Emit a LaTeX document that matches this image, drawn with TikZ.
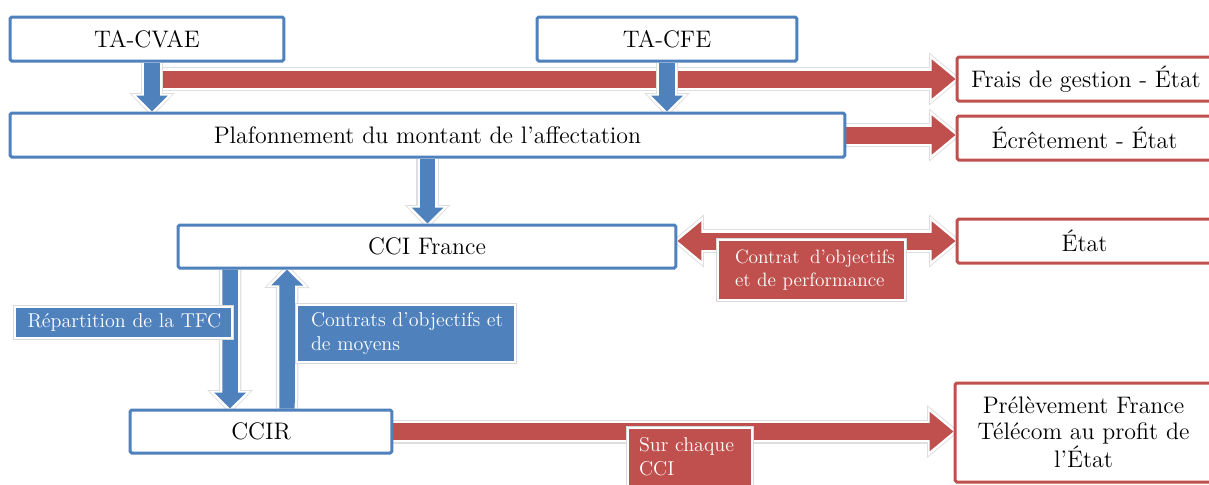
\documentclass[tikz,border=0pt]{standalone}
\usepackage{fontspec}
\usetikzlibrary{arrows.meta,positioning,backgrounds}
\definecolor{cblue}{HTML}{4F81BD}
\definecolor{cred}{HTML}{C0504D}

\begin{document}
\begin{tikzpicture}[x=0.02cm, y=-0.02cm,
    bluebox/.style={draw=cblue, line width=0.06cm, rounded corners=1pt, fill=white, minimum height=0.88cm, inner sep=0pt, align=center, font=\fontsize{13.6}{14.8}\selectfont},
    redbox/.style={bluebox, draw=cred},
    bluelbl/.style={fill=cblue, draw=white, line width=0.05cm, text=white, align=left, inner xsep=0.2cm, font=\fontsize{11.4}{13.5}\selectfont, preaction={draw=black!15, line width=0.08cm}},
    redlbl/.style={bluelbl, fill=cred},
    fatblue/.style={draw=cblue, line width=0.31cm, -{Triangle[length=0.32cm,width=0.62cm]},
        preaction={draw=black!13, line width=0.45cm, shorten >=-0.11cm, -{Triangle[length=0.48cm,width=0.88cm]}},
        preaction={draw=white, line width=0.40cm, shorten >=-0.08cm, -{Triangle[length=0.43cm,width=0.80cm]}}},
    fatred/.style={draw=cred, line width=0.34cm, -{Triangle[length=0.48cm,width=0.76cm]},
        preaction={draw=black!13, line width=0.48cm, shorten >=-0.11cm, shorten <=-0.07cm, -{Triangle[length=0.64cm,width=1.02cm]}},
        preaction={draw=white, line width=0.43cm, shorten >=-0.08cm, shorten <=-0.05cm, -{Triangle[length=0.59cm,width=0.94cm]}}},
    fatredboth/.style={draw=cred, line width=0.34cm, {Triangle[length=0.48cm,width=0.76cm]}-{Triangle[length=0.48cm,width=0.76cm]},
        preaction={draw=black!13, line width=0.48cm, shorten >=-0.11cm, shorten <=-0.11cm, {Triangle[length=0.64cm,width=1.02cm]}-{Triangle[length=0.64cm,width=1.02cm]}},
        preaction={draw=white, line width=0.43cm, shorten >=-0.08cm, shorten <=-0.08cm, {Triangle[length=0.59cm,width=0.94cm]}-{Triangle[length=0.59cm,width=0.94cm]}}}
]
\useasboundingbox (0,0) rectangle (1209,484);

% boxes
\node[bluebox, minimum width=5.48cm] (cvae) at (147,39) {TA-CVAE};
\node[bluebox, minimum width=5.2cm] (cfe) at (667,39) {TA-CFE};
\node[bluebox, minimum width=16.7cm] (plaf) at (427.5,135) {Plafonnement du montant de l’affectation};
\node[bluebox, minimum width=9.96cm, minimum height=0.86cm] (cci) at (427,246.5) {CCI France};
\node[bluebox, minimum width=5.24cm, minimum height=0.86cm] (ccir) at (261,431.5) {CCIR};
\node[redbox, minimum width=5.1cm] (frais) at (1084.5,79) {\hspace*{0.06cm}Frais de gestion - État};
\node[redbox, minimum width=5.1cm] (ecret) at (1084.5,138) {Écrêtement - État};
\node[redbox, minimum width=5.1cm] (etat) at (1084.5,241) {État};
\node[redbox, minimum width=5.14cm, minimum height=1.98cm] (prel) at (1083.5,432.5) {Prélèvement France\\Télécom au profit de\\l’État};

% arrows
\begin{scope}[on background layer]
\coordinate (topstart) at (163,79);
\draw[fatred] (topstart) -- (topstart -| frais.west);
\draw[fatred] (plaf.east) -- (plaf.east -| ecret.west);
\draw[fatredboth] (cci.east |- etat.west) -- (etat.west);
\draw[fatred] (ccir.east) -- (ccir.east -| prel.west);
\draw[fatblue] ([xshift=0.1cm]cvae.south) -- ([xshift=0.1cm]cvae.south |- plaf.north);
\draw[fatblue] (cfe.south) -- (cfe.south |- plaf.north);
\draw[fatblue] (plaf.south) -- (plaf.south |- cci.north);
\draw[fatblue] ([xshift=-3.94cm]cci.south) -- ([xshift=-0.62cm]ccir.north);
\draw[fatblue] ([xshift=0.52cm]ccir.north) -- ([xshift=-2.8cm]cci.south);
\end{scope}

% labels
\node[bluelbl, minimum width=4.34cm, minimum height=0.62cm, text width=3.94cm, inner xsep=0.2cm] (replbl) at (123.5,322.5) {\hspace*{0.05cm}Répartition de la TFC};
\node[bluelbl, minimum width=4.36cm, minimum height=1.14cm, text width=3.8cm, inner xsep=0.28cm] (contlbl) at (406,333.5) {\makebox[3.8cm][s]{Contrats d’objectifs et}\\de moyens};
\node[redlbl, minimum width=3.74cm, minimum height=1.2cm, text width=3.06cm, inner xsep=0.34cm, font=\fontsize{11}{13.2}\selectfont] (perflbl) at (811.5,270) {\mbox{Contrat\hspace{0.08cm} d’objectifs}\\\mbox{et de performance}};
\node[redlbl, minimum width=2.48cm, minimum height=1.16cm, text width=2.04cm, inner xsep=0.22cm] (surlbl) at (690,457) {Sur chaque\\CCI};
\end{tikzpicture}
\end{document}
